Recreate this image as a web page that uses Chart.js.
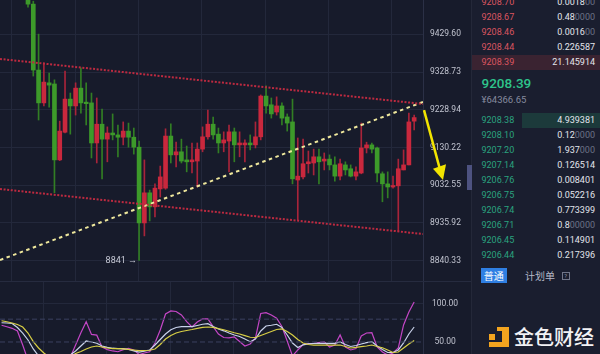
<!DOCTYPE html>
<html><head><meta charset="utf-8">
<script src="https://cdn.jsdelivr.net/npm/chart.js@4/dist/chart.umd.min.js"></script>
<style>
html,body{margin:0;padding:0;width:600px;height:354px;overflow:hidden;background:#171b2b;font-family:Roboto,"Noto Sans CJK SC",sans-serif;}
canvas{position:absolute;left:0;}
#main{top:0;}
#kdj{top:282px;}
.sep{position:absolute;left:0;top:281px;width:471px;height:1px;background:#262b3f;}
.vdiv{position:absolute;left:471px;top:0;width:1px;height:354px;background:#242839;}
.tab{position:absolute;left:467px;top:165px;width:5px;height:25px;background:#4d5280;}
#book{position:absolute;left:472px;top:0;width:128px;height:354px;background:#1a1e2f;}
.row{position:absolute;left:0;width:128px;height:15px;font-size:9px;line-height:15px;}
.row .p{position:absolute;left:9.5px;}
.row .q{position:absolute;right:5px;color:#e3e5ec;}
.row .q i{font-style:normal;color:#6c7186;}
.ask .p{color:#dc5560;}
.bid .p{color:#2aa37f;}
.hl-ask{position:absolute;left:0;top:55px;width:128px;height:15px;background:#3a2331;}
.hl-bid{position:absolute;left:50px;top:113px;width:78px;height:14.5px;background:#1c3a3b;}
.mid{position:absolute;left:9.5px;top:74px;font-size:13.5px;line-height:18px;color:#2ec48b;font-weight:500;}
.cny{position:absolute;left:9.5px;top:93px;font-size:9.5px;line-height:13px;color:#858a9e;}
.btn{position:absolute;left:8.7px;top:268.3px;width:26px;height:15px;background:#2f7fe3;color:#fff;font-size:10px;line-height:15px;text-align:center;font-family:"Noto Sans CJK SC";}
.plan{position:absolute;left:53px;top:268px;font-size:10px;line-height:15px;color:#b6bac8;font-family:"Noto Sans CJK SC";}
.qm{position:absolute;left:89.7px;top:272px;width:6px;height:6px;border:1px solid #717689;color:#8a8fa0;font-size:6px;line-height:6px;text-align:center;}
.lg{position:absolute;background:#f3a41f;}
.logo{position:absolute;left:514px;top:327px;font-size:20px;line-height:20px;color:#f2f2f5;font-family:"Noto Sans CJK SC";font-weight:500;}
</style></head>
<body>
<canvas id="main" width="470" height="282" style="width:470px;height:282px"></canvas>
<canvas id="kdj" width="470" height="72" style="width:470px;height:72px"></canvas>
<div class="sep"></div>
<div id="book">
  <div class="hl-ask"></div>
  <div class="hl-bid"></div>
</div>
<div class="vdiv"></div>
<div class="tab"></div>
<div class="lg" style="left:489px;top:333.5px;width:6px;height:6.5px"></div>
<div class="lg" style="left:497px;top:327px;width:5px;height:4px"></div>
<div class="lg" style="left:502px;top:327px;width:6.5px;height:20px"></div>
<div class="lg" style="left:489px;top:341.5px;width:19.5px;height:5.5px"></div>
<div class="logo">金色财经</div>
<script>
// ---------- data ----------
const OPEN  = [9562,9511,9334,9247,9300,9297,9098,9170,9257,9239,9286,9249,9247,9142,9191,9152,9168,9163,9157,9173,9157,9131,8936,9013,8977,9023,9025,9160,9111,9119,9098,9093,9095,9126,9158,9191,9165,9142,9147,9171,9137,9137,9142,9137,9158,9265,9242,9223,9239,9210,9197,9046,9054,9088,9090,9106,9095,9100,9085,9056,9085,9075,9056,9064,9129,9137,9129,9062,9036,9028,9031,9072,9085,9199];
const HIGH  = [9589,9519,9430,9353,9326,9308,9199,9331,9273,9300,9340,9300,9273,9260,9231,9184,9218,9189,9197,9194,9181,9147,9098,9020,9036,9082,9179,9192,9144,9152,9134,9142,9142,9184,9228,9210,9181,9171,9189,9181,9171,9150,9163,9197,9268,9292,9260,9263,9247,9218,9257,9155,9152,9121,9126,9126,9116,9111,9106,9100,9093,9085,9080,9194,9144,9142,9131,9067,9067,9056,9100,9124,9220,9215];
const LOW   = [9503,9318,9202,9239,9236,9013,9096,9168,9165,9215,9220,9189,9103,9090,9049,9093,9150,9106,9137,9131,9113,8841,8903,8941,8951,9002,9022,9090,9080,9090,9067,9064,9028,9119,9152,9152,9116,9119,9067,9093,9106,9093,9124,9129,9150,9220,9207,9215,9189,9173,9036,8943,9049,9064,9059,9036,9072,9072,9043,9046,9059,9054,9046,9062,9116,9116,9041,8990,9000,9025,8915,9072,9085,9176];
const CLOSE = [9511,9334,9247,9302,9294,9098,9173,9257,9239,9286,9247,9245,9142,9191,9152,9168,9163,9157,9173,9157,9131,8936,9013,8977,9025,9054,9160,9111,9119,9095,9093,9098,9126,9158,9191,9163,9142,9150,9171,9137,9142,9142,9137,9158,9265,9239,9218,9239,9207,9194,9049,9056,9088,9093,9106,9093,9100,9085,9056,9088,9072,9056,9067,9129,9137,9126,9064,9036,9028,9031,9075,9085,9197,9208.39];
const PRICE_TICKS = [9429.60, 9328.73, 9228.94, 9130.22, 9032.55, 8935.92, 8840.33];
const RESIST_LINE  = [{x:-5.293, y:9363.6}, {x:74.67, y:9244.1}];
const CHANNEL_LOW  = [{x:-5.293, y:9022.8}, {x:74.67, y:8907.8}];
const SUPPORT_LINE = [{x:-5.293, y:8842.1}, {x:74.67, y:9249.4}];
const ARROW_LINE = [{x:74.86, y:9228}, {x:77.9, y:9072}];
const ARROW_HEAD = [{x:76.56, y:9075}, {x:79.02, y:9087}, {x:78.45, y:9046}];
const KDJ_START = -5;
const K_LINE = [75.3,75,74.3,69.1,61.8, 52.6,40.8,31.6,26,24,22,24,26,33,38.2, 44.7,51.3,50,48.3,44.7,43,41.8,41.4,41.3,40.1, 38.4,36.8,37.9,39.5,46,53.3,60.5,66.2,69.1,70.1, 70.1,70.1,71.7,73.3,74.1,70.4,67.1,64.7,61.8,59.2, 57.2,53.9,50.4,53.9,64.5,71.1,72,73.3,69.1,59.2, 48.7,42.8,46.3,47.4,48,48.3,48.3,48.3,48.3,50, 46.7,44.1,45.4,47.4,49.1,50.4,44.7,40.1,36.2,36.2, 39.5,48.7,60.5,69.7];
const D_LINE = [77.9,76.6,75,73,69.7, 61.8,50.4,42.1,35.5,30.3,27.6,26.3,27.6,30.3,34.9, 37.5,40.8,43.4,44.7,43.4,42.1,41.4,41.2,40.9,40.4, 39.5,38.7,38.8,39.1,40.8,46.7,53.9,58.6,61.8,63.8, 65.1,66.4,68,69.1,69.7,69.1,67.5,66.1,64.1,62.2, 60.5,58.3,56.2,55.9,58.6,61.2,63.8,66.4,67.1,63.8, 59.2,53.3,48.7,46.7,46,46,46,46,46,46, 44.1,42.1,42.8,43.8,44.7,46,44.1,42.4,39.5,36.2, 36.8,42.1,47.4,52];
const J_LINE = [72,70,68,64.5,46, 26,18,12,8,8,10,12,20,30,46, 62,76.7,60,59,43.4,40,38.2,37.2,40,41.7, 39.5,33.6,35.5,37.2,48.7,65.8,86.8,90.8,90.1,85.5, 76.7,69.7,76.3,80.3,80.3,70.1,60.5,55.9,55.5,56.6, 50.7,44.7,47.4,55.3,87.5,88.6,85.5,81.2,70.4,51.3, 31.6,39.5,46.7,48,48.3,49.3,50,43.4,46,59.2, 43.4,39.5,41.4,57.9,61.8,62.2,43.4,36.8,32.9,35.5, 42.1,72.4,89.5,102.6];
const KDJ_TICKS = [100, 50];
const KDJ_REF = [80, 50];
const ASK_PRICES = ['9208.70','9208.67','9208.46','9208.44','9208.39'];
const ASK_QTY    = ['0.001800','0.480000','0.001600','0.226587','21.145914'];
const LAST_PRICE = '9208.39';
const LAST_CNY   = '¥64366.65';
const BID_PRICES = ['9208.38','9208.10','9207.20','9207.14','9206.76','9206.75','9206.74','9206.71','9206.45','9206.44'];
const BID_QTY    = ['4.939381','0.120000','1.937000','0.126514','0.008401','0.052216','0.773399','0.800000','0.114901','0.217396'];

// ---------- layout constants ----------
const X_MIN = -5.293, X_MAX = 74.67;
const Y_MIN = 8786.8, Y_MAX = 9522.2;
const GRID_X = [2.89, 14.88, 26.95, 38.81, 50.91, 62.76];
const GRID = '#23283b';
const UPC = '#c9283d', DNC = '#3d9a2a', UPW = '#a8243a', DNW = '#327e24';

// ---------- order book ----------
const book = document.getElementById('book');
function qtyHTML(q){ const m = q.match(/^(.*?)(0*)$/); return m[1] + (m[2]?'<i>'+m[2]+'</i>':''); }
ASK_PRICES.forEach((p,i)=>{ const d=document.createElement('div'); d.className='row ask'; d.style.top=(-5.5+15*i)+'px'; d.innerHTML='<span class="p">'+p+'</span><span class="q">'+qtyHTML(ASK_QTY[i])+'</span>'; book.appendChild(d); });
BID_PRICES.forEach((p,i)=>{ const d=document.createElement('div'); d.className='row bid'; d.style.top=(112.5+15*i)+'px'; d.innerHTML='<span class="p">'+p+'</span><span class="q">'+qtyHTML(BID_QTY[i])+'</span>'; book.appendChild(d); });
book.insertAdjacentHTML('beforeend','<div class="mid">'+LAST_PRICE+'</div><div class="cny">'+LAST_CNY+'</div><div class="btn">普通</div><div class="plan">计划单</div><div class="qm">?</div>');

// ---------- main chart ----------
const idx = OPEN.map((_,i)=>i);
const isUp = i => CLOSE[i] >= OPEN[i];
const overlay = {
  id:'overlay',
  afterDraw(chart){
    const {ctx, scales:{x, y}} = chart;
    ctx.save();
    let li = 0; LOW.forEach((v,i)=>{ if(v < LOW[li]) li = i; });
    ctx.font = '9px Roboto';
    ctx.fillStyle = '#c9ccd8';
    ctx.textAlign = 'right'; ctx.textBaseline = 'middle';
    ctx.fillText(Math.round(LOW[li]) + ' \u2192', x.getPixelForValue(li) - 2, y.getPixelForValue(LOW[li]));
    ctx.strokeStyle = '#f2e400'; ctx.fillStyle = '#f2e400'; ctx.lineWidth = 2.5;
    ctx.beginPath();
    ctx.moveTo(x.getPixelForValue(ARROW_LINE[0].x), y.getPixelForValue(ARROW_LINE[0].y));
    ctx.lineTo(x.getPixelForValue(ARROW_LINE[1].x), y.getPixelForValue(ARROW_LINE[1].y));
    ctx.stroke();
    ctx.beginPath();
    ARROW_HEAD.forEach((p,i)=>{ const px=x.getPixelForValue(p.x), py=y.getPixelForValue(p.y); i?ctx.lineTo(px,py):ctx.moveTo(px,py); });
    ctx.closePath(); ctx.fill();
    ctx.restore();
  }
};
const xScale = {
  type:'linear', min:X_MIN, max:X_MAX, offset:false,
  afterBuildTicks: s => { s.ticks = GRID_X.map(v=>({value:v})); },
  afterFit: s => { s.height = 0; s.paddingLeft = 0; s.paddingRight = 0; },
  ticks:{display:false}, grid:{color:GRID, drawTicks:false}, border:{display:false}
};
const noPadY = w => s => { s.width = w; s.paddingTop = 0; s.paddingBottom = 0; };
new Chart(document.getElementById('main'), {
  type:'bar',
  data:{ datasets:[
    {type:'line', data:RESIST_LINE, borderColor:'#bd2a40', borderWidth:2, borderDash:[2,1.6], pointRadius:0, order:0},
    {type:'line', data:CHANNEL_LOW, borderColor:'#bd2a40', borderWidth:2, borderDash:[2,1.6], pointRadius:0, order:0},
    {type:'line', data:SUPPORT_LINE, borderColor:'#eee79c', borderWidth:2, borderDash:[3.5,3.5], pointRadius:0, order:0},
    {data: idx.map(i=>({x:i, y:[OPEN[i], CLOSE[i]]})), backgroundColor: idx.map(i=>isUp(i)?UPC:DNC), grouped:false, categoryPercentage:1, barPercentage:1, maxBarThickness:4, minBarLength:1.5, order:1},
    {data: idx.map(i=>({x:i, y:[LOW[i], HIGH[i]]})), backgroundColor: idx.map(i=>isUp(i)?UPW:DNW), grouped:false, categoryPercentage:1, barPercentage:1, maxBarThickness:1, order:2}
  ]},
  options:{
    responsive:false, animation:false, devicePixelRatio:1, events:[],
    layout:{padding:0},
    plugins:{legend:{display:false}, tooltip:{enabled:false}},
    scales:{
      x: xScale,
      y:{ type:'logarithmic', position:'right', min:Y_MIN, max:Y_MAX,
          afterBuildTicks: s => { s.ticks = PRICE_TICKS.map(v=>({value:v})); },
          afterFit: noPadY(47),
          ticks:{ callback: v => Number(v).toFixed(2), color:'#c0c3cf', font:{family:'Roboto', size:8.5}, padding:7, crossAlign:'near', autoSkip:false },
          grid:{ color:GRID, drawTicks:false }, border:{ display:true, color:'#2b3046' } }
    }
  },
  plugins:[overlay]
});

// ---------- KDJ panel ----------
const kdjPts = arr => arr.map((v,i)=>({x:KDJ_START+i, y:v}));
new Chart(document.getElementById('kdj'), {
  type:'line',
  data:{ datasets:[
    ...KDJ_REF.map(v=>({data:[{x:X_MIN,y:v},{x:X_MAX,y:v}], borderColor:'#3b4160', borderWidth:1, borderDash:[5,3], pointRadius:0})),
    {data:kdjPts(D_LINE), borderColor:'#d8cf45', borderWidth:1.2, pointRadius:0},
    {data:kdjPts(K_LINE), borderColor:'#c9d2ea', borderWidth:1.2, pointRadius:0},
    {data:kdjPts(J_LINE), borderColor:'#c446c6', borderWidth:1.2, pointRadius:0}
  ]},
  options:{
    responsive:false, animation:false, devicePixelRatio:1, events:[],
    layout:{padding:0},
    plugins:{legend:{display:false}, tooltip:{enabled:false}},
    scales:{
      x: xScale,
      y:{ type:'linear', position:'right', min:34.2, max:128.9,
          afterBuildTicks: s => { s.ticks = KDJ_TICKS.map(v=>({value:v})); },
          afterFit: noPadY(47),
          ticks:{ callback: v => Number(v).toFixed(2), color:'#c0c3cf', font:{family:'Roboto', size:8.5}, padding:9, crossAlign:'center', autoSkip:false },
          grid:{ color: c => (c.tick && c.tick.value === 100) ? GRID : 'rgba(0,0,0,0)', drawTicks:false }, border:{ display:true, color:'#2b3046' } }
    }
  }
});
</script>
</body></html>
